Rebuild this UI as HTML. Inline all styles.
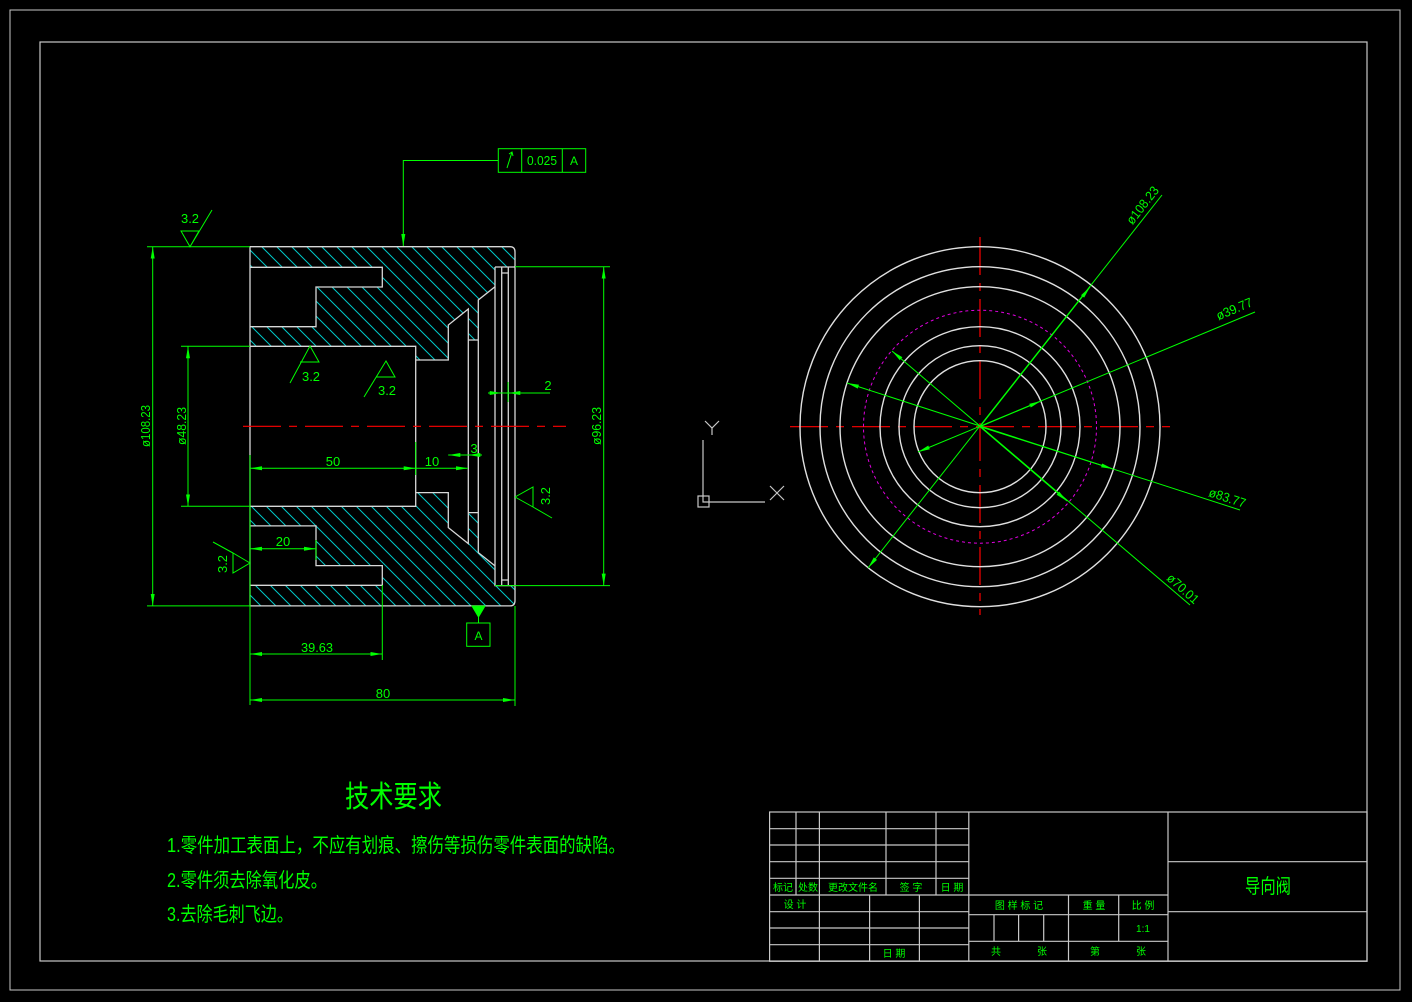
<!DOCTYPE html>
<html><head><meta charset="utf-8"><style>
html,body{margin:0;padding:0;background:#000;}
svg{display:block;}
text{font-family:"Liberation Sans","Noto Sans CJK SC",sans-serif;fill:#00ff00;}
</style></head><body>
<svg width="1412" height="1002" viewBox="0 0 1412 1002" xmlns="http://www.w3.org/2000/svg">
<defs>
<pattern id="h" patternUnits="userSpaceOnUse" width="15" height="15">
<path d="M-4,-4 L19,19 M-19,-4 L4,19 M11,-4 L34,19" stroke="#00c8c8" stroke-width="1"/>
</pattern>
<marker id="a" markerWidth="12" markerHeight="6" refX="12" refY="3" orient="auto" markerUnits="userSpaceOnUse"><path d="M0,1 L12,3 L0,5 z" fill="#00ff00"/></marker>
<marker id="b" markerWidth="12" markerHeight="6" refX="0" refY="3" orient="auto" markerUnits="userSpaceOnUse"><path d="M12,1 L0,3 L12,5 z" fill="#00ff00"/></marker>
</defs>
<rect width="1412" height="1002" fill="#000"/>
<rect x="10" y="10" width="1390" height="980" fill="none" stroke="#c8c8c8" stroke-width="1"/>
<rect x="40" y="42" width="1327" height="919" fill="none" stroke="#c8c8c8" stroke-width="1.2"/>

<path d="M250,246.7 L510,246.7 Q515,246.7 515,252 L515,267 L495,267 L495,286.7 L478.3,300 L478.3,340 L468.3,340 L468.3,309 L448.3,325 L448.3,360 L415.7,360 L415.7,346.3 L250,346.3 L250,326.7 L316,326.7 L316,287 L382.3,287 L382.3,267.3 L250,267.3 Z" fill="url(#h)" stroke="none"/>
<path d="M250,605.9 L510,605.9 Q515,605.9 515,600.6 L515,585.6 L495,585.6 L495,565.9 L478.3,552.6 L478.3,512.6 L468.3,512.6 L468.3,543.6 L448.3,527.6 L448.3,492.6 L415.7,492.6 L415.7,506.3 L250,506.3 L250,525.9 L316,525.9 L316,565.6 L382.3,565.6 L382.3,585.3 L250,585.3 Z" fill="url(#h)"/>

<g stroke="#d8d8d8" stroke-width="1.3" fill="none">
<path d="M250,246.7 L510,246.7 Q515,246.7 515,252 L515,600.6 Q515,605.9 510,605.9 L250,605.9 Z"/>
<path d="M250,267.3 L382.3,267.3 L382.3,287 L316,287 L316,326.7 L250,326.7"/>
<path d="M250,346.3 L415.7,346.3 L415.7,506.3 L250,506.3"/>
<path d="M250,585.3 L382.3,585.3 L382.3,565.6 L316,565.6 L316,525.9 L250,525.9"/>
<path d="M415.7,360 L448.3,360 L448.3,325 L468.3,309 L468.3,543.6 L448.3,527.6 L448.3,492.6 L415.7,492.6"/>
<path d="M478.3,552.6 L478.3,300 L495,286.7 M478.3,552.6 L495,565.9"/>
<path d="M468.3,340 L478.3,340 M468.3,512.6 L478.3,512.6"/>
<path d="M495,267 L515,267 M495,267 L495,585.6 L515,585.6 M501.7,267 L501.7,585.6 M508.3,267 L508.3,585.6 M501.7,273 L508.3,273 M501.7,580 L508.3,580"/>
</g>

<line x1="243" y1="426.3" x2="566" y2="426.3" stroke="#ff0000" stroke-width="1.2" stroke-dasharray="38,8,8,8"/>
<line x1="790" y1="426.7" x2="1170" y2="426.7" stroke="#ff0000" stroke-width="1.2" stroke-dasharray="38,8,8,8"/>
<line x1="980" y1="237" x2="980" y2="615" stroke="#ff0000" stroke-width="1.2" stroke-dasharray="38,8,8,8"/>

<g stroke="#00ff00" stroke-width="1" fill="none">
<line x1="147" y1="246.7" x2="250" y2="246.7"/>
<line x1="147" y1="605.9" x2="250" y2="605.9"/>
<line x1="152.7" y1="246.7" x2="152.7" y2="605.9" marker-start="url(#b)" marker-end="url(#a)"/>
<line x1="181" y1="346.3" x2="250" y2="346.3"/>
<line x1="181" y1="506.3" x2="250" y2="506.3"/>
<line x1="188" y1="346.3" x2="188" y2="506.3" marker-start="url(#b)" marker-end="url(#a)"/>
<line x1="515" y1="266.7" x2="610" y2="266.7"/>
<line x1="495" y1="585.6" x2="610" y2="585.6"/>
<line x1="603.7" y1="266.7" x2="603.7" y2="585.6" marker-start="url(#b)" marker-end="url(#a)"/>
<line x1="250" y1="455" x2="250" y2="705"/>
<line x1="415.7" y1="442" x2="415.7" y2="475"/>
<line x1="250" y1="468.3" x2="415.7" y2="468.3" marker-start="url(#b)" marker-end="url(#a)"/>
<line x1="415.7" y1="468.3" x2="468" y2="468.3" marker-end="url(#a)"/>
<line x1="448.3" y1="455" x2="480" y2="455"/>
<line x1="448.3" y1="455" x2="462" y2="455" marker-start="url(#b)"/>
<line x1="468.3" y1="455" x2="482" y2="455" marker-start="url(#b)"/>
<line x1="488" y1="393" x2="550" y2="393"/>
<line x1="508" y1="382" x2="508" y2="402"/>
<line x1="490" y1="393" x2="501.7" y2="393" marker-end="url(#a)"/>
<line x1="520" y1="393" x2="508.3" y2="393" marker-end="url(#a)"/>
<line x1="250" y1="548.7" x2="316" y2="548.7" marker-start="url(#b)" marker-end="url(#a)"/>
<line x1="316" y1="540" x2="316" y2="560"/>
<line x1="382.3" y1="585" x2="382.3" y2="660"/>
<line x1="250" y1="654" x2="382.3" y2="654" marker-start="url(#b)" marker-end="url(#a)"/>
<line x1="515" y1="606" x2="515" y2="706"/>
<line x1="250" y1="700" x2="515" y2="700" marker-start="url(#b)" marker-end="url(#a)"/>
<rect x="498.3" y="148.7" width="87.4" height="23.6"/>
<line x1="521.7" y1="148.7" x2="521.7" y2="172.3"/>
<line x1="562.3" y1="148.7" x2="562.3" y2="172.3"/>
<path d="M498.3,160.5 L403.3,160.5 L403.3,246" marker-end="url(#a)"/>
<path d="M507,168 L512,152 M509,154 L512,152 L513,156"/>
<path d="M472,606 L485,606 L478.5,617 Z" fill="#00ff00"/>
<line x1="478.5" y1="617" x2="478.5" y2="623"/>
<rect x="466.7" y="623" width="23.3" height="23.3"/>
<path d="M181,231 L199,231 L190,246.7 Z M190,246.7 L212,210"/>
<path d="M300,362 L319,362 L310,346 L290,383"/>
<path d="M376,377 L395,377 L386,361 L364,397"/>
<path d="M515,497 L533,487 L533,507 L552,518 M515,497 L533,507"/>
<path d="M250,563 L233,553 L233,573 Z M233,553 L213,542"/>
</g>
<g stroke="#c8c8c8" stroke-width="1.2" fill="none">
<path d="M703,440 L703,502 L765,502"/>
<rect x="698" y="496" width="11" height="11"/>
<path d="M705,421 L712,428 L719,421 M712,428 L712,435"/>
<path d="M770,486 L784,500 M784,486 L770,500"/>
</g>

<g stroke="#e0e0e0" stroke-width="1.4" fill="none">
<circle cx="980" cy="426.7" r="180"/>
<circle cx="980" cy="426.7" r="160"/>
<circle cx="980" cy="426.7" r="140"/>
<circle cx="980" cy="426.7" r="100"/>
<circle cx="980" cy="426.7" r="81"/>
<circle cx="980" cy="426.7" r="66"/>
</g>
<circle cx="980" cy="426.7" r="116.5" fill="none" stroke="#e000e0" stroke-width="1" stroke-dasharray="3,3"/>
<g stroke="#00ff00" stroke-width="1" fill="none">
<line x1="1162" y1="195" x2="868" y2="568" marker-end="url(#a)"/>
<line x1="980" y1="426.7" x2="1090" y2="287" marker-end="url(#a)"/>
<line x1="1255" y1="312" x2="918" y2="452" marker-end="url(#a)"/>
<line x1="980" y1="426.7" x2="1041" y2="401" marker-end="url(#a)"/>
<line x1="1240" y1="510" x2="847" y2="383" marker-end="url(#a)"/>
<line x1="980" y1="426.7" x2="1113" y2="469" marker-end="url(#a)"/>
<line x1="1190" y1="605" x2="892" y2="351" marker-end="url(#a)"/>
<line x1="980" y1="426.7" x2="1067" y2="501" marker-end="url(#a)"/>
</g>

<g font-size="13">
<text x="190" y="223" text-anchor="middle" textLength="18" lengthAdjust="spacingAndGlyphs">3.2</text>
<text x="311" y="381" text-anchor="middle" textLength="18" lengthAdjust="spacingAndGlyphs">3.2</text>
<text x="387" y="395" text-anchor="middle" textLength="18" lengthAdjust="spacingAndGlyphs">3.2</text>
<text x="333" y="466" text-anchor="middle">50</text>
<text x="432" y="466" text-anchor="middle">10</text>
<text x="474" y="453" text-anchor="middle">3</text>
<text x="548" y="390" text-anchor="middle">2</text>
<text x="283" y="546" text-anchor="middle">20</text>
<text x="317" y="652" text-anchor="middle" textLength="32" lengthAdjust="spacingAndGlyphs">39.63</text>
<text x="383" y="698" text-anchor="middle">80</text>
<text x="542" y="165" text-anchor="middle" textLength="30" lengthAdjust="spacingAndGlyphs">0.025</text>
<text x="574" y="165" text-anchor="middle" font-size="12">A</text>
<text x="478.5" y="640" text-anchor="middle" font-size="12">A</text>
<text transform="translate(150,426) rotate(-90)" text-anchor="middle" textLength="42" lengthAdjust="spacingAndGlyphs">ø108.23</text>
<text transform="translate(186,426) rotate(-90)" text-anchor="middle" textLength="38" lengthAdjust="spacingAndGlyphs">ø48.23</text>
<text transform="translate(601,426) rotate(-90)" text-anchor="middle" textLength="38" lengthAdjust="spacingAndGlyphs">ø96.23</text>
<text transform="translate(550,496) rotate(-90)" text-anchor="middle" textLength="18" lengthAdjust="spacingAndGlyphs">3.2</text>
<text transform="translate(227,564) rotate(-90)" text-anchor="middle" textLength="18" lengthAdjust="spacingAndGlyphs">3.2</text>
<text transform="translate(1146,208) rotate(-52)" text-anchor="middle" textLength="44" lengthAdjust="spacingAndGlyphs">ø108.23</text>
<text transform="translate(1236,313) rotate(-23)" text-anchor="middle" textLength="38" lengthAdjust="spacingAndGlyphs">ø39.77</text>
<text transform="translate(1226,502) rotate(18)" text-anchor="middle" textLength="38" lengthAdjust="spacingAndGlyphs">ø83.77</text>
<text transform="translate(1180,592) rotate(42)" text-anchor="middle" textLength="38" lengthAdjust="spacingAndGlyphs">ø70.01</text>
</g>

<text x="345" y="807" font-size="30" textLength="97" lengthAdjust="spacingAndGlyphs">技术要求</text>
<text x="167" y="852" font-size="20" textLength="458" lengthAdjust="spacingAndGlyphs">1.零件加工表面上，不应有划痕、擦伤等损伤零件表面的缺陷。</text>
<text x="167" y="887" font-size="20" textLength="160" lengthAdjust="spacingAndGlyphs">2.零件须去除氧化皮。</text>
<text x="167" y="921" font-size="20" textLength="126" lengthAdjust="spacingAndGlyphs">3.去除毛刺飞边。</text>

<g stroke="#c8c8c8" stroke-width="1.2" fill="none">
<rect x="769.6" y="812" width="597.4" height="149.3"/>
<line x1="968.8" y1="812" x2="968.8" y2="961.3"/>
<line x1="1168" y1="812" x2="1168" y2="961.3"/>
<line x1="1168" y1="861.7" x2="1367" y2="861.7"/>
<line x1="1168" y1="911.7" x2="1367" y2="911.7"/>
<line x1="769.6" y1="828.7" x2="968.8" y2="828.7"/>
<line x1="769.6" y1="845" x2="968.8" y2="845"/>
<line x1="769.6" y1="861.7" x2="968.8" y2="861.7"/>
<line x1="769.6" y1="878.3" x2="968.8" y2="878.3"/>
<line x1="769.6" y1="895" x2="1168" y2="895"/>
<line x1="769.6" y1="911.7" x2="968.8" y2="911.7"/>
<line x1="769.6" y1="928" x2="968.8" y2="928"/>
<line x1="769.6" y1="944.7" x2="968.8" y2="944.7"/>
<line x1="796" y1="812" x2="796" y2="895"/>
<line x1="819.4" y1="812" x2="819.4" y2="961.3"/>
<line x1="886" y1="812" x2="886" y2="895"/>
<line x1="936" y1="812" x2="936" y2="895"/>
<line x1="869.6" y1="895" x2="869.6" y2="961.3"/>
<line x1="919.4" y1="895" x2="919.4" y2="961.3"/>
<line x1="968.8" y1="914.7" x2="1168" y2="914.7"/>
<line x1="968.8" y1="941.3" x2="1168" y2="941.3"/>
<line x1="994" y1="914.7" x2="994" y2="941.3"/>
<line x1="1018.6" y1="914.7" x2="1018.6" y2="941.3"/>
<line x1="1043.7" y1="914.7" x2="1043.7" y2="941.3"/>
<line x1="1068.5" y1="895" x2="1068.5" y2="961.3"/>
<line x1="1118.7" y1="895" x2="1118.7" y2="941.3"/>
</g>
<g font-size="10" text-anchor="middle">
<text x="783" y="891">标记</text>
<text x="808" y="891">处数</text>
<text x="853" y="891">更改文件名</text>
<text x="911" y="891">签  字</text>
<text x="952" y="891">日 期</text>
<text x="795" y="908">设  计</text>
<text x="894" y="957">日  期</text>
<text x="1019" y="909">图 样 标 记</text>
<text x="1094" y="909">重  量</text>
<text x="1143" y="909">比  例</text>
<text x="1143" y="932">1:1</text>
<text x="996" y="955">共</text>
<text x="1042" y="955">张</text>
<text x="1095" y="955">第</text>
<text x="1141" y="955">张</text>
</g>
<text x="1268" y="893" font-size="20" text-anchor="middle" textLength="46" lengthAdjust="spacingAndGlyphs">导向阀</text>
</svg>
</body></html>
